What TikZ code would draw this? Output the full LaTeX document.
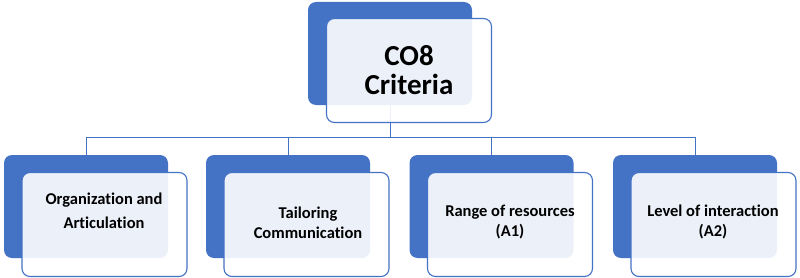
\documentclass[tikz,border=0pt]{standalone}
\usepackage{fontspec}
\setmainfont{Carlito}[Ligatures={NoCommon}]
\definecolor{coblue}{HTML}{4472C4}

\begin{document}
\begin{tikzpicture}[
  x=1pt, y=-1pt,
  back/.style={rectangle, rounded corners=8pt, fill=coblue,
               minimum width=164pt, minimum height=103pt, inner sep=0pt},
  front/.style={rectangle, rounded corners=8pt, draw=coblue, line width=1.1pt,
                fill=white, fill opacity=0.9, minimum width=165pt,
                minimum height=104pt, inner sep=0pt},
  txt/.style={align=center, inner sep=0pt,
              font=\bfseries\fontsize{16.5}{20}\selectfont},
  link/.style={draw=coblue, line width=0.9pt}
]
  \fill[white] (0,0) rectangle (800,278);
  \useasboundingbox (0,0) rectangle (800,278);
  % back boxes
  \node[back] (b0) at (390,53.5) {};
  \foreach \i/\bx in {1/86, 2/288, 3/491.5, 4/695}
    \node[back] (b\i) at (\bx,206.5) {};
  % connectors
  \coordinate (bus) at (390,137);
  \foreach \i in {1,...,4}
    \draw[link] (b0.south) -- (b0.south |- bus) -| (b\i.north);
  % front boxes
  \node[front] (f0) at (409,70.5) {};
  \foreach \i/\bx in {1/86, 2/288, 3/491.5, 4/695}
    \node[front] (f\i) at (\bx+18.5,224.5) {};
  % texts
  \node[txt, font=\bfseries\fontsize{29}{29}\selectfont] (t0) at (409,70) {CO8\\Criteria};
  \node[txt, font=\bfseries\fontsize{16.5}{24}\selectfont] (t1) at (104,211) {Organization and\\Articulation};
  \node[txt] (t2) at (308,223) {Tailoring\\Communication};
  \node[txt] (t3) at (510,222) {Range of resources\\(A1)};
  \node[txt] (t4) at (713,222) {Level of interaction\\(A2)};
\end{tikzpicture}
\end{document}
